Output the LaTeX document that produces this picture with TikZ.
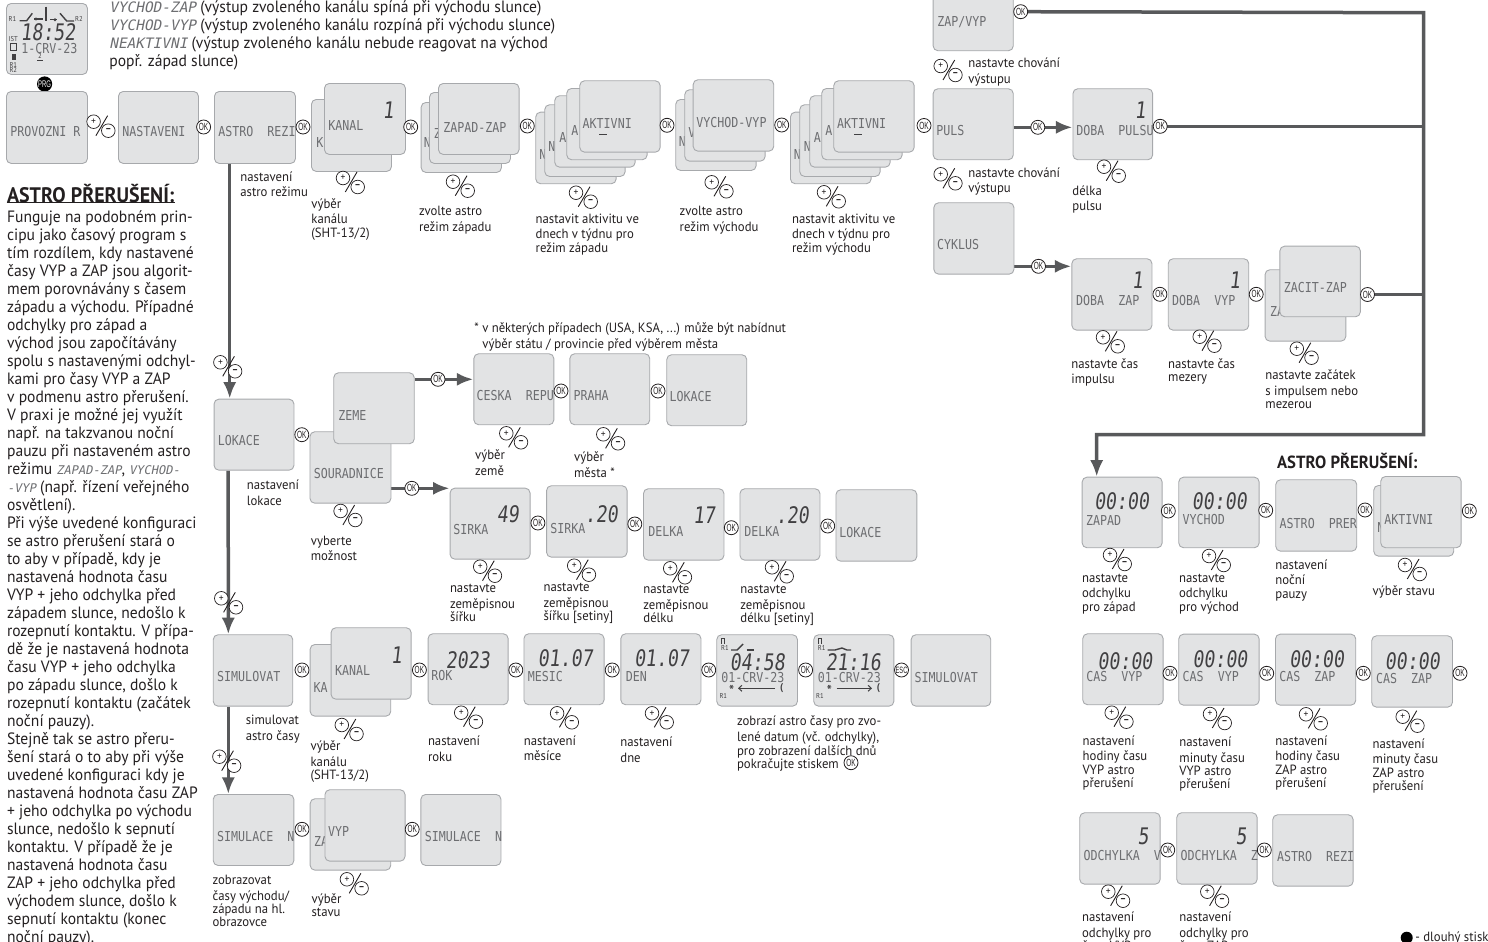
\documentclass[tikz,border=0pt]{standalone}
\usepackage{fontspec}
\setmainfont[FakeStretch=0.95]{PT Sans}
\usetikzlibrary{arrows.meta,calc,backgrounds}
\newfontfamily\lcdf[FakeStretch=0.85]{DejaVu Sans Mono}
\newfontfamily\lcdif[FakeStretch=1.0,FakeSlant=0.2]{DejaVu Sans Mono}
\newfontfamily\digf[FakeStretch=0.8,FakeSlant=0.12]{DejaVu Sans Mono}
\newfontfamily\okf[FakeStretch=0.62]{Liberation Sans}
\definecolor{lcdfill}{HTML}{E2E3E4}
\definecolor{lcdedge}{HTML}{A7A9AC}
\definecolor{lcdink}{HTML}{6D6E71}
\definecolor{digink}{HTML}{414042}
\definecolor{flowc}{HTML}{58595B}
\definecolor{ink}{HTML}{231F20}
\tikzset{
  lcdbox/.style={draw=lcdedge,fill=lcdfill,line width=.45pt,rounded corners=2.4pt,inner sep=0pt,anchor=north west},
  lcdtxt/.style={anchor=west,inner sep=0pt,text=lcdink,font=\lcdf\fontsize{6.85}{7}\selectfont},
  digtxt/.style={anchor=center,inner sep=0pt,text=digink,font=\digf\fontsize{11.4}{12}\selectfont},
  okc/.style={circle,draw=ink,fill=white,line width=.4pt,minimum size=7pt,inner sep=0pt,text=ink,font=\okf\fontsize{5.2}{5.4}\selectfont},
  pmc/.style={circle,draw=ink,fill=white,line width=.35pt,minimum size=6.8pt,inner sep=0pt,text=ink,font=\fontsize{5}{5}\selectfont},
  smalltxt/.style={anchor=north west,inner sep=0pt,align=left,text=ink,yshift=3pt,font=\fontsize{6.7}{6.65}\selectfont},
  bigtxt/.style={anchor=north west,inner sep=0pt,align=left,text=ink,yshift=4pt,font=\fontsize{8.2}{9}\selectfont},
  head/.style={anchor=west,inner sep=0pt,text=ink,font=\bfseries\fontsize{#1}{#1}\selectfont},
  flowl/.style={draw=flowc,line width=1.75pt},
  flowa/.style={flowl,-{Latex[length=8.3pt,width=6.6pt]}},
  seg/.style={draw=digink,line width=.5pt},
  tiny/.style={inner sep=0pt,text=digink,font=\fontsize{3.5}{3.7}\selectfont},
}
\newcommand\lbox[5]{\pgfmathsetmacro\bxw{(#4-#2)*0.5}\pgfmathsetmacro\bxh{(#5-#3)*0.5}%
  \node[lcdbox,minimum width=\bxw pt,minimum height=\bxh pt] (#1) at (#2,#3) {};}
\newcommand\lcdt[4]{\node[lcdtxt] (#1) at (#2,#3) {\vphantom{H}#4};}
\newcommand\digt[4]{\node[digtxt] (#1) at (#2,#3) {#4};}
\newcommand\okc[3]{\node[okc] (#1) at (#2,#3) {OK};}
\newcommand\pmk[3]{%
  \coordinate (#1a) at ($(#2,#3)+(2.3,14)$);\coordinate (#1b) at ($(#2,#3)+(14,-6)$);
  \draw[ink,line width=.45pt] (#1a) -- (#1b);
  \node[pmc] (#1p) at (#2,#3) {+};
  \node[pmc] (#1m) at ($(#2,#3)+(14.7,9)$) {\textbf{−}};}
\newcommand\smt[4]{\node[smalltxt] (#1) at (#2,#3) {\strut #4};}
\newcommand\bgt[4]{\node[bigtxt] (#1) at (#2,#3) {\strut #4};}
\newcommand\lcdi[2]{{\lcdif\fontsize{#1}{#1}\selectfont\textcolor{lcdink}{#2}}}
\begin{document}
\begin{tikzpicture}[x=.5pt,y=-.5pt]
\useasboundingbox (0,0) rectangle (1488,942);
\clip (0,0) rectangle (1488,942);

% ---------- main display
\lbox{main}{6}{3}{87}{74}
\node[tiny] (mr1) at (12.5,19.5) {R1};
\node[tiny] (mr2) at (79,19) {R2};
\coordinate (ms1) at (19.5,20.7);\coordinate (ms2) at (26.7,20.7);\coordinate (ms3) at (32.3,13.3);
\draw[seg,line width=.7pt] (ms1) -- (ms2) -- (ms3);
\coordinate (ms4) at (34,19);\coordinate (ms5) at (42.7,19);
\draw[seg,line width=.7pt] (ms4) -- (ms5);
\fill[digink] (36,19) circle (1.6);
\coordinate (ms6) at (46,6.7);\coordinate (ms7) at (46,20.7);
\draw[seg,line width=.8pt] (ms6) -- (ms7);
\coordinate (ms8) at (50,19.7);\coordinate (ms9) at (56.7,19.7);
\draw[seg,line width=.7pt] (ms8) -- (ms9);
\fill[digink] (55,19.7) circle (1.6);
\coordinate (ms10) at (60,13.3);\coordinate (ms11) at (66.7,21);\coordinate (ms12) at (74,21);
\draw[seg,line width=.7pt] (ms10) -- (ms11) -- (ms12);
\digt{mclock}{48}{32}{18:52}
\lcdt{mdate}{21}{48.5}{1-CRV-23}
\node[tiny] (mist) at (13.3,39.5) {IST};
\draw[seg] (10.5,43) rectangle (16,50);
\fill[digink] (11.5,53.5) rectangle (15.5,59.5);
\node[tiny] (mr1b) at (13.3,65) {R1};
\node[tiny] (mr2b) at (13.3,70.5) {R2};
\node[tiny] (mcur) at (40,56.5) {2};
\draw[seg] (37,60) -- (43,60);
\node[circle,fill=black,text=white,minimum size=7.6pt,inner sep=0pt,font=\okf\fontsize{4.8}{5}\selectfont] (prg) at (44.6,84) {PRG};

% ---------- header text
\bgt{hd}{109}{7.3}{\lcdi{7.2}{VYCHOD-ZAP} (výstup zvoleného kanálu spíná při východu slunce)\\
\lcdi{7.2}{VYCHOD-VYP} (výstup zvoleného kanálu rozpíná při východu slunce)\\
\lcdi{7.2}{NEAKTIVNI} (výstup zvoleného kanálu nebude reagovat na východ\\
popř. západ slunce)}

% ---------- top row
\lbox{prov}{6}{91}{87}{163}\lcdt{provt}{10}{132}{PROVOZNI R}
\pmk{pm1}{93.6}{121.7}
\lbox{nast}{118}{91}{198}{163}\lcdt{nastt}{122}{132}{NASTAVENI}
\okc{ok1}{203.6}{127}
\lbox{astro}{214}{91}{295}{163}\lcdt{astrot}{218}{132}{ASTRO~~REZI}
\okc{ok2}{303}{127}
\lbox{kanb}{311}{99}{391}{171}\lcdt{kanbt}{316}{143}{K}
\lbox{kanf}{324}{83}{405}{154}\lcdt{kanft}{328}{126}{KANAL}\digt{kand}{388}{110}{1}
\okc{ok3}{410.7}{127}
\lbox{zpa}{420.7}{102}{501}{172}\lcdt{zpat}{423.5}{143}{N}
\lbox{zpb}{429}{92}{510}{163}\lcdt{zpbt}{433.5}{134}{Z}
\lbox{zpc}{438}{83}{518.6}{154}\lcdt{zpct}{443}{128}{ZAPAD-ZAP}
\okc{ok4}{527.3}{126}
\lbox{aka}{535.3}{111.7}{615.7}{183.3}\lcdt{akat}{539}{155}{N}
\lbox{akb}{544.3}{104.3}{624.7}{176}\lcdt{akbt}{548}{147}{N}
\lbox{akc}{554.3}{95.3}{634.7}{166.7}\lcdt{akct}{559}{138}{A}
\lbox{akd}{566.3}{88}{646.7}{159.3}\lcdt{akdt}{571}{131}{A}
\lbox{ake}{579.3}{80.3}{659.7}{151.7}\lcdt{aket}{582.3}{123.3}{AKTIVNI}
\coordinate (aku1) at (599,134.5);\coordinate (aku2) at (607,134.5);\draw[seg] (aku1) -- (aku2);
\okc{ok5}{667}{125.3}
\lbox{vya}{675.3}{99}{755.7}{170}\lcdt{vyat}{678.5}{141.7}{N}
\lbox{vyb}{684.3}{89.3}{764.7}{160.7}\lcdt{vybt}{688}{132.7}{V}
\lbox{vyc}{692.7}{79.3}{773.3}{150.7}\lcdt{vyct}{696}{122.7}{VYCHOD-VYP}
\okc{ok6}{781.7}{125}
\lbox{bka}{790}{111.7}{870.7}{183.3}\lcdt{bkat}{793.5}{155}{N}
\lbox{bkb}{799.3}{104.3}{879.7}{176}\lcdt{bkbt}{803.5}{147}{N}
\lbox{bkc}{809.3}{95.3}{889.7}{166.7}\lcdt{bkct}{813.5}{138}{A}
\lbox{bkd}{821.3}{88}{901.7}{159.3}\lcdt{bkdt}{825}{131}{A}
\lbox{bke}{833.3}{80.3}{913.7}{151.7}\lcdt{bket}{836.7}{123.3}{AKTIVNI}
\coordinate (bku1) at (854,134.5);\coordinate (bku2) at (862,134.5);\draw[seg] (bku1) -- (bku2);
\okc{ok7}{924}{125.5}

\smt{t1}{240}{177}{nastavení\\astro režimu}
\pmk{pm2}{343}{178}
\smt{t2}{311}{204}{výběr\\kanálu\\(SHT-13/2)}
\pmk{pm3}{453}{181.7}
\smt{t3}{418.6}{212}{zvolte astro\\režim západu}
\pmk{pm4}{576}{192.7}
\smt{t4}{535.3}{219.3}{nastavit aktivitu ve\\dnech v týdnu pro\\režim západu}
\pmk{pm5}{711.7}{182.3}
\smt{t5}{679.3}{212}{zvolte astro\\režim východu}
\pmk{pm6}{824}{192.3}
\smt{t6}{791.7}{219.3}{nastavit aktivitu ve\\dnech v týdnu pro\\režim východu}

% ---------- output behaviour column
\lbox{zv}{932.7}{-21}{1012.8}{50.3}\lcdt{zvt}{937}{21.7}{ZAP/VYP}
\okc{ok8}{1020.7}{11.7}
\pmk{pm7}{940.7}{66}
\smt{t7}{968}{63.7}{nastavte chování\\výstupu}
\lbox{puls}{932.7}{88.3}{1012.8}{159.3}\lcdt{pulst}{936}{131}{PULS}
\okc{ok9}{1037.8}{127.3}
\lbox{dpu}{1072.5}{88.3}{1152.2}{159.3}\lcdt{dput}{1076}{131}{DOBA~~PULSU}\digt{dpud}{1140}{110}{1}
\okc{ok10}{1160.2}{126.3}
\pmk{pm8}{1104}{166.7}
\smt{t8}{1072}{191.3}{délka\\pulsu}
\pmk{pm9}{940.7}{174.3}
\smt{t9}{968}{173.3}{nastavte chování\\výstupu}
\lbox{cyk}{933.4}{202.3}{1013.5}{273.7}\lcdt{cykt}{936.7}{245}{CYKLUS}
\okc{ok11}{1038.5}{266.3}
\lbox{dza}{1071.4}{258.3}{1151.5}{329.7}\lcdt{dzat}{1075.8}{301}{DOBA~~ZAP}\digt{dzad}{1137.4}{280}{1}
\okc{ok12}{1159.9}{294.3}
\lbox{dvy}{1167.8}{258.3}{1248.3}{329.7}\lcdt{dvyt}{1171.8}{301}{DOBA~~VYP}\digt{dvyd}{1234.5}{280}{1}
\okc{ok13}{1256.2}{294.3}
\lbox{zca}{1264.6}{269.3}{1345.4}{340.7}\lcdt{zcat}{1269.6}{311.7}{ZA}
\lbox{zcb}{1279.4}{245.7}{1359.9}{316.3}\lcdt{zcbt}{1283.4}{287.7}{ZACIT-ZAP}
\okc{ok14}{1367.5}{294.5}
\pmk{pm10}{1103}{337.3}
\smt{t10}{1071}{364.3}{nastavte čas\\impulsu}
\pmk{pm11}{1199.7}{336.7}
\smt{t11}{1167.8}{364.3}{nastavte čas\\mezery}
\pmk{pm12}{1296.8}{348.7}
\smt{t12}{1265}{375.7}{nastavte začátek\\s impulsem nebo\\mezerou}

% ---------- location branch
\lbox{lok}{213.6}{398.7}{293.5}{469.7}\lcdt{lokt}{217.5}{441}{LOKACE}
\okc{ok15}{301.8}{434.7}
\lbox{sou}{309.5}{431.3}{390.5}{502.7}\lcdt{sout}{313.4}{474}{SOURADNICE}
\lbox{zem}{333.3}{372.3}{413.8}{443.3}\lcdt{zemt}{338}{415.7}{ZEME}
\okc{ok16}{438}{379.3}
\okc{ok17}{411.8}{488.3}
\smt{t13}{246.5}{485.7}{nastavení\\lokace}
\pmk{pm13}{340.6}{511}
\smt{t14}{310.5}{541.3}{vyberte\\možnost}
\smt{t15}{474}{328}{* v některých případech (USA, KSA, ...) může být nabídnut\\\hspace*{4pt}výběr státu / provincie před výběrem města}
\lbox{ces}{473.4}{353.3}{553.4}{424.3}\lcdt{cest}{476.3}{396}{CESKA~~REPU}
\okc{ok18}{561}{391}
\lbox{pra}{569.4}{353.3}{649.3}{424.3}\lcdt{prat}{573.2}{396}{PRAHA}
\okc{ok19}{658}{391}
\lbox{lo2}{666.3}{354.3}{746.3}{425.3}\lcdt{lo2t}{669.2}{396.7}{LOKACE}
\pmk{pm14}{506.3}{433.3}
\smt{t16}{474.8}{455}{výběr\\země}
\pmk{pm15}{603.3}{434.3}
\smt{t17}{573.7}{457.3}{výběr\\města *}
\lbox{si1}{449.6}{487.7}{529.6}{558.7}\lcdt{si1t}{453}{530}{SIRKA}\digt{si1d}{507.8}{514}{49}
\okc{ok20}{537.9}{523}
\lbox{si2}{546.1}{485.3}{626.6}{556.7}\lcdt{si2t}{550}{528.3}{SIRKA}\digt{si2d}{601.4}{514}{.20}
\okc{ok21}{634.8}{524}
\lbox{de1}{643}{488.3}{723.5}{559.7}\lcdt{de1t}{648}{531}{DELKA}\digt{de1d}{704}{515}{17}
\okc{ok22}{731.3}{527.7}
\lbox{de2}{739.5}{488.3}{819.5}{559.7}\lcdt{de2t}{743.9}{531}{DELKA}\digt{de2d}{792.3}{515}{.20}
\okc{ok23}{827.7}{526}
\lbox{lo3}{835.5}{489.3}{916.4}{560.7}\lcdt{lo3t}{838.9}{532.3}{LOKACE}
\pmk{pm16}{480.2}{566.7}
\smt{t18}{449.6}{588.7}{nastavte\\zeměpisnou\\šířku}
\pmk{pm17}{574.2}{565.7}
\smt{t19}{543.2}{588}{nastavte\\zeměpisnou\\šířku [setiny]}
\pmk{pm18}{670.2}{568.3}
\smt{t20}{643}{590}{nastavte\\zeměpisnou\\délku}
\pmk{pm19}{772}{567.3}
\smt{t21}{740}{590}{nastavte\\zeměpisnou\\délku [setiny]}

% ---------- simulation
\lbox{sim}{212.8}{634.3}{292.3}{705.7}\lcdt{simt}{216.8}{676.7}{SIMULOVAT}
\okc{ok24}{302}{670}
\lbox{kab}{309.7}{644}{390.3}{715.7}\lcdt{kabt}{313.3}{687.7}{KA}
\lbox{kac}{330.6}{627.3}{410.7}{698.7}\lcdt{kact}{334.7}{670.7}{KANAL}\digt{kacd}{396.4}{655}{1}
\okc{ok25}{419.4}{670}
\lbox{rok}{427.6}{633.3}{507.7}{704.3}\lcdt{rokt}{431}{676}{ROK}\digt{rokd}{467.9}{660}{2023}
\okc{ok26}{515.8}{670}
\lbox{mes}{523.5}{633.3}{603.6}{704.3}\lcdt{mest}{527.5}{676.7}{MESIC}\digt{mesd}{565.3}{658.3}{01.07}
\okc{ok27}{612.2}{670}
\lbox{den}{620.4}{633.3}{700.5}{704.3}\lcdt{dent}{625.5}{676.7}{DEN}\digt{dend}{661.7}{658.3}{01.07}
\okc{ok28}{708.7}{670}
% display 1
\lbox{d1}{716.3}{634.3}{797}{705.7}
\node[tiny] (d1r) at (725,648.3) {R1};
\node[tiny] (d1s) at (723.3,695.7) {R1};
\draw[seg] (721,644) -- (721,638) -- (724.5,638) -- (724.5,644);
\coordinate (d1a) at (731,650);\coordinate (d1b) at (737,650);\coordinate (d1c) at (743,644);
\draw[seg,line width=.7pt] (d1a) -- (d1b) -- (d1c);
\coordinate (d1d) at (746.5,650);\coordinate (d1e) at (753.5,650);
\draw[seg,line width=.7pt] (d1d) -- (d1e);
\digt{d1dg}{757.3}{661.7}{04:58}
\lcdt{d1t}{721}{677.5}{01-CRV-23}
\node[inner sep=0pt,text=digink,font=\bfseries\fontsize{7}{7}\selectfont] (d1st) at (731.7,690.5) {*};
\coordinate (d1l) at (775,688.3);\coordinate (d1m) at (738,688.3);
\draw[seg,-{Straight Barb[length=1.6pt,width=3pt]}] (d1l) -- (d1m);
\node[inner sep=0pt,text=digink,font=\bfseries\fontsize{5}{5}\selectfont] (d1k) at (781.7,688) {(};
\okc{ok29}{805.6}{670}
% display 2
\lbox{d2}{813.3}{634.3}{893.4}{705.7}
\node[tiny] (d2r) at (821.7,648.3) {R1};
\node[tiny] (d2s) at (820,695.7) {R1};
\draw[seg] (818,644) -- (818,638) -- (821.5,638) -- (821.5,644);
\coordinate (d2a) at (827.7,650);\coordinate (d2b) at (835,650);\coordinate (d2c) at (842,648);\coordinate (d2e) at (847,650);\coordinate (d2f) at (851,650);
\draw[seg,line width=.7pt] (d2a) -- (d2b) -- (d2c) -- (d2e) -- (d2f);
\digt{d2dg}{853.3}{661.7}{21:16}
\lcdt{d2t}{817.5}{677.5}{01-CRV-23}
\node[inner sep=0pt,text=digink,font=\bfseries\fontsize{7}{7}\selectfont] (d2st) at (829.3,690.5) {*};
\coordinate (d2l) at (836.7,688.3);\coordinate (d2m) at (872,688.3);
\draw[seg,-{Straight Barb[length=1.6pt,width=3pt]}] (d2l) -- (d2m);
\node[inner sep=0pt,text=digink,font=\bfseries\fontsize{5}{5}\selectfont] (d2k) at (878.3,688) {(};
\node[okc,font=\okf\fontsize{4.6}{5}\selectfont] (esc) at (901.5,670) {ESC};
\lbox{si3}{910.7}{634.3}{990.3}{705.7}\lcdt{si3t}{914.3}{677.3}{SIMULOVAT}

\smt{t22}{245.4}{720.7}{simulovat\\astro časy}
\pmk{pm20}{341.8}{725}
\smt{t23}{310.2}{746.7}{výběr\\kanálu\\(SHT-13/2)}
\pmk{pm21}{461.2}{712.7}
\smt{t24}{427.6}{741.7}{nastavení\\roku}
\pmk{pm22}{557.1}{713.3}
\smt{t25}{523.5}{741}{nastavení\\měsíce}
\pmk{pm23}{652}{713.3}
\smt{t26}{620}{742.7}{nastavení\\dne}
\smt{t27}{736.7}{721.7}{zobrazí astro časy pro zvo-\\lené datum (vč. odchylky),\\pro zobrazení dalších dnů\\pokračujte stiskem}
\okc{ok30}{851}{762.7}

\lbox{sn1}{212.8}{794}{293.4}{865}\lcdt{sn1t}{216.8}{836.7}{SIMULACE~~N}
\okc{ok31}{302}{829.3}
\lbox{sn2}{309.7}{798.3}{390.3}{869.7}\lcdt{sn2t}{313.8}{841.7}{ZA}
\lbox{sn3}{324.5}{789.3}{404.6}{860.7}\lcdt{sn3t}{327.6}{831.7}{VYP}
\okc{ok32}{412.2}{829.3}
\lbox{sn4}{420.4}{794}{500.5}{865}\lcdt{sn4t}{424.5}{836.7}{SIMULACE~~N}
\pmk{pm24}{346.9}{879.3}
\smt{t28}{212.2}{880.7}{zobrazovat\\časy východu/\\západu na hl.\\obrazovce}
\smt{t29}{311.2}{899.3}{výběr\\stavu}

\pmk{pm25}{220.4}{362.3}
\pmk{pm26}{221.3}{598.3}
\pmk{pm27}{219.4}{756.7}

% ---------- astro break, right
\node[head=8.8] (h2) at (1276.7,460.7) {ASTRO PŘERUŠENÍ:};
\lbox{za}{1081.7}{476.7}{1161.7}{547.3}\lcdt{zat}{1085.7}{520}{ZAPAD}\digt{zad}{1121.7}{501}{00:00}
\okc{ok33}{1168.3}{511}
\lbox{vy}{1178.3}{476.7}{1258.7}{547.3}\lcdt{vyt}{1182.3}{520}{VYCHOD}\digt{vyd}{1219.3}{501}{00:00}
\okc{ok34}{1265.7}{510.3}
\lbox{ap}{1275.3}{479.3}{1356.3}{550.7}\lcdt{apt}{1279.3}{523.3}{ASTRO~~PRER}
\okc{ok35}{1365}{510}
\lbox{ab}{1373.3}{485}{1453.3}{555.7}\lcdt{abt}{1377}{527.3}{N}
\lbox{af}{1380.3}{476}{1460.7}{547.3}\lcdt{aft}{1384}{519.3}{AKTIVNI}
\okc{ok36}{1469.3}{511}
\pmk{pm28}{1110}{555}
\pmk{pm29}{1209}{556}
\pmk{pm30}{1405}{565}
\smt{t30}{1081.7}{578.7}{nastavte\\odchylku\\pro západ}
\smt{t31}{1178.7}{578.7}{nastavte\\odchylku\\pro východ}
\smt{t32}{1275}{565}{nastavení\\noční\\pauzy}
\smt{t33}{1372.3}{591.7}{výběr stavu}

\lbox{cv1}{1082.3}{633.3}{1162.7}{704.3}\lcdt{cv1t}{1086}{676.7}{CAS~~VYP}\digt{cv1d}{1125}{660.7}{00:00}
\okc{ok37}{1170}{673.3}
\lbox{cv2}{1178.3}{633.7}{1258.7}{704.7}\lcdt{cv2t}{1182.3}{676.7}{CAS~~VYP}\digt{cv2d}{1220}{659}{00:00}
\okc{ok38}{1266.7}{673.3}
\lbox{cz1}{1275}{633.7}{1355.3}{704.7}\lcdt{cz1t}{1279}{676.7}{CAS~~ZAP}\digt{cz1d}{1316.7}{659}{00:00}
\okc{ok39}{1363.3}{673.3}
\lbox{cz2}{1371.3}{635.3}{1452}{706.7}\lcdt{cz2t}{1375.7}{678.3}{CAS~~ZAP}\digt{cz2d}{1412.3}{660.7}{00:00}
\okc{ok40}{1460}{673.3}
\pmk{pm31}{1111.7}{712.7}
\pmk{pm32}{1210}{714}
\pmk{pm33}{1306}{714.3}
\pmk{pm34}{1402.7}{716.7}
\smt{t34}{1082.3}{741}{nastavení\\hodiny času\\VYP astro\\přerušení}
\smt{t35}{1179}{742.3}{nastavení\\minuty času\\VYP astro\\přerušení}
\smt{t36}{1275}{741}{nastavení\\hodiny času\\ZAP astro\\přerušení}
\smt{t37}{1372.3}{744}{nastavení\\minuty času\\ZAP astro\\přerušení}

\lbox{od1}{1079.3}{812.3}{1159.7}{883.7}\lcdt{od1t}{1083.3}{855.7}{ODCHYLKA~~V}\digt{od1d}{1143}{836.7}{5}
\okc{ok41}{1167.7}{850}
\lbox{od2}{1176.3}{812.3}{1256.7}{883.7}\lcdt{od2t}{1180.3}{855.7}{ODCHYLKA~~Z}\digt{od2d}{1241}{836.7}{5}
\okc{ok42}{1264.3}{850}
\lbox{ar2}{1272.3}{814.3}{1352.7}{885.7}\lcdt{ar2t}{1276.7}{856.7}{ASTRO~~REZI}
\pmk{pm35}{1108.3}{891.7}
\pmk{pm36}{1207.3}{891.7}
\smt{t38}{1081.7}{917.7}{nastavení\\odchylky pro\\času VYP}
\smt{t39}{1179}{917.7}{nastavení\\odchylky pro\\času ZAP}
\node[circle,fill=black,minimum size=6pt,inner sep=0pt] (dot) at (1406.7,937.7) {};
\smt{t40}{1415}{937}{- dlouhý stisk}

% ---------- left text
\node[head=10.5] (h1) at (6.7,194) {ASTRO PŘERUŠENÍ:};
\draw[ink,line width=.5pt] (6.7,202) -- (175,202);
\bgt{lt1}{6.7}{217.7}{Funguje na podobném prin-\\cipu jako časový program s\\tím rozdílem, kdy nastavené\\časy VYP a ZAP jsou algorit-\\mem porovnávány s časem\\západu a východu. Případné\\odchylky pro západ a\\východ jsou započítávány\\spolu s nastavenými odchyl-\\kami pro časy VYP a ZAP\\v podmenu astro přerušení.\\V praxi je možné jej využít\\např. na takzvanou noční\\pauzu při nastaveném astro\\režimu \lcdi{6}{ZAPAD-ZAP}, \lcdi{6}{VYCHOD-}\\\lcdi{6}{-VYP} (např. řízení veřejného\\osvětlení).\\Při výše uvedené konfiguraci\\se astro přerušení stará o\\to aby v případě, kdy je\\nastavená hodnota času\\VYP + jeho odchylka před\\západem slunce,  nedošlo k\\rozepnutí kontaktu. V přípa-\\dě že je nastavená hodnota\\času VYP + jeho odchylka\\po západu slunce, došlo k\\rozepnutí kontaktu (začátek\\noční pauzy).}
\bgt{lt2}{6.7}{739}{Stejně tak se astro přeru-\\šení stará o to aby při výše\\uvedené konfiguraci kdy je\\nastavená hodnota času ZAP\\+ jeho odchylka po východu\\slunce, nedošlo k sepnutí\\kontaktu. V případě že je\\nastavená hodnota času\\ZAP + jeho odchylka před\\východem slunce, došlo k\\sepnutí kontaktu (konec\\noční pauzy).}

% ---------- connectors
\begin{pgfonlayer}{background}
\coordinate (bustop) at (1423.6,12.7);
\coordinate (busbot) at (1423.6,434.5);
\coordinate (busturn) at (1096.7,434.5);
\draw[flowa] (ok8.center) -- (bustop) -- (busbot) -- (busturn) -- (busturn |- za.north);
\draw[flowl] (ok10.center) -- (ok10 -| bustop);
\draw[flowl] (ok14.center) -- (ok14 -| bustop);
\draw[flowa] (puls.east |- ok9) -- (dpu.west |- ok9);
\draw[flowa] (cyk.east |- ok11) -- (dza.west |- ok11);
\draw[flowa] (zem.east |- ok16) -- (ces.west |- ok16);
\draw[flowa] (sou.east |- ok17) -- (si1.west |- ok17);
\draw[flowa] ([xshift=7.85pt]astro.south west) -- ([xshift=8.05pt]lok.north west);
\draw[flowa] ([xshift=7.3pt]lok.south west) -- ([xshift=7.75pt]sim.north west);
\draw[flowa] ([xshift=7.75pt]sim.south west) -- ([xshift=7.75pt]sn1.north west);
\end{pgfonlayer}
\end{tikzpicture}
\end{document}
